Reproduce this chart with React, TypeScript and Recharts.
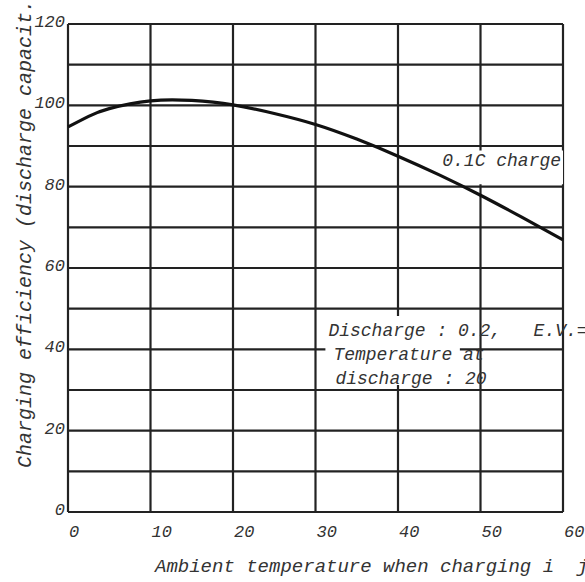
import React from 'react';
import { LineChart, Line, XAxis, YAxis, CartesianGrid, ReferenceArea } from 'recharts';

const temperatures = [0, 2.5, 5, 10, 15, 20, 25, 30, 35, 40, 45, 50, 55, 60];
const efficiency = [94.7, 97.3, 99.2, 101.1, 101.2, 100.1, 98.0, 95.3, 91.7, 87.5, 82.9, 77.9, 72.5, 66.9];
const xTicks = [0, 10, 20, 30, 40, 50, 60];
const yTicks = [0, 20, 40, 60, 80, 100, 120];
const xGrid = [0, 10, 20, 30, 40, 50, 60];
const yGrid = [0, 10, 20, 30, 40, 50, 60, 70, 80, 90, 100, 110, 120];
const xLabel = 'Ambient temperature when charging i  j';
const yLabel = 'Charging efficiency (discharge capacit.';
const curveLabel = '0.1C charge';
const noteLines = ['Discharge : 0.2,   E.V.=', 'Temperature at', 'discharge : 20'];

const data = temperatures.map((t, i) => ({ t, eff: efficiency[i] }));

const FONT = '"Liberation Mono", "DejaVu Sans Mono", monospace';
const TXT = '#333';

const YTick = (props: any) => {
  const { x, y, payload } = props;
  return (
    <text x={x} y={y + 3} textAnchor="end" fontFamily={FONT} fontStyle="italic" fontSize={17} fill={TXT}>
      {payload.value}
    </text>
  );
};

const XTick = (props: any) => {
  const { x, y, payload } = props;
  return (
    <text x={x + 1} y={y + 25} textAnchor="start" fontFamily={FONT} fontStyle="italic" fontSize={17} fill={TXT}>
      {payload.value}
    </text>
  );
};

const CurveLabel = (props: any) => {
  const vb = props.viewBox || {};
  return (
    <text x={vb.x + 3} y={vb.y + 16} fontFamily={FONT} fontStyle="italic" fontSize={18} fill={TXT}>
      {curveLabel}
    </text>
  );
};

const NoteLabel = (props: any) => {
  const vb = props.viewBox || {};
  return (
    <g>
      <text x={vb.x + 3} y={vb.y + 20} fontFamily={FONT} fontStyle="italic" fontSize={18} fill={TXT} style={{ whiteSpace: 'pre' }}>
        {noteLines[0]}
      </text>
      <text x={vb.x + 8} y={vb.y + 44} fontFamily={FONT} fontStyle="italic" fontSize={18} fill={TXT}>
        {noteLines[1]}
      </text>
      <text x={vb.x + 10} y={vb.y + 68} fontFamily={FONT} fontStyle="italic" fontSize={18} fill={TXT}>
        {noteLines[2]}
      </text>
    </g>
  );
};

export default function App() {
  return (
    <div style={{ position: 'absolute', left: 0, top: 0, width: 585, height: 582, background: '#fff' }}>
      <LineChart width={585} height={582} data={data} margin={{ top: 24, right: 22, bottom: 40, left: 0 }}>
        <CartesianGrid
          stroke="#222"
          strokeWidth={2.2}
          horizontalValues={yGrid}
          verticalValues={xGrid}
        />
        <XAxis
          dataKey="t"
          type="number"
          domain={[0, 60]}
          ticks={xTicks}
          tickLine={false}
          axisLine={false}
          tickSize={0}
          tickMargin={0}
          height={30}
          tick={<XTick />}
          interval={0}
        />
        <YAxis
          type="number"
          domain={[0, 120]}
          ticks={yTicks}
          tickLine={false}
          axisLine={false}
          tickSize={0}
          tickMargin={3}
          width={68}
          tick={<YTick />}
          interval={0}
        />
        <ReferenceArea x1={45} x2={60} y1={80.6} y2={88.9} fill="#fff" fillOpacity={1} stroke="none" label={<CurveLabel />} />
        <ReferenceArea x1={31.2} x2={47.5} y1={31.2} y2={48.2} fill="#fff" fillOpacity={1} stroke="none" label={<NoteLabel />} />
        <Line
          dataKey="eff"
          type="natural"
          stroke="#111"
          strokeWidth={3.2}
          dot={false}
          isAnimationActive={false}
        />
      </LineChart>
      <svg width={585} height={582} style={{ position: 'absolute', left: 0, top: 0, pointerEvents: 'none' }}>
        <text x={155} y={572} fontFamily={FONT} fontStyle="italic" fontSize={19} fill={TXT} style={{ whiteSpace: 'pre' }}>
          {xLabel}
        </text>
        <text transform="translate(31,468) rotate(-90)" fontFamily={FONT} fontStyle="italic" fontSize={20} fill={TXT}>
          {yLabel}
        </text>
      </svg>
    </div>
  );
}
